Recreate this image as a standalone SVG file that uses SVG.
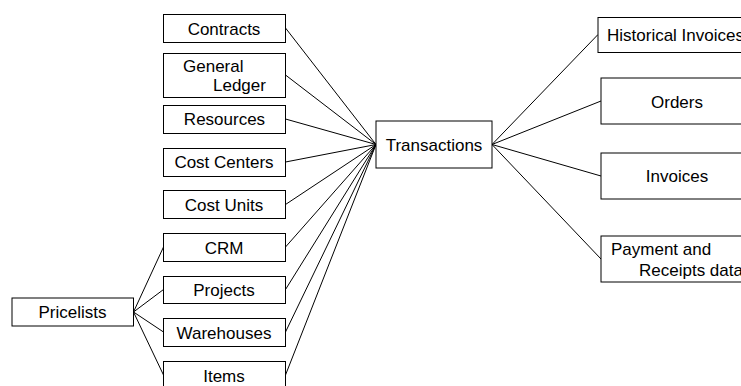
<svg xmlns="http://www.w3.org/2000/svg" width="741" height="386" viewBox="0 0 741 386">
<style>
.b{fill:#fff;stroke:#000;stroke-width:1}
.t{font-family:"Liberation Sans",Arial,sans-serif;font-size:17px;fill:#000}
.m{text-anchor:middle}
.c line{stroke:#000;stroke-width:1}
</style>
<rect width="741" height="386" fill="#fff"/>
<g class="c" id="connectors">
<line x1="285.5" y1="28" x2="376" y2="144.5"/>
<line x1="285.5" y1="75" x2="376" y2="144.5"/>
<line x1="285.5" y1="119" x2="376" y2="144.5"/>
<line x1="285.5" y1="162" x2="376" y2="144.5"/>
<line x1="285.5" y1="204.5" x2="376" y2="144.5"/>
<line x1="285.5" y1="247" x2="376" y2="144.5"/>
<line x1="285.5" y1="289.5" x2="376" y2="144.5"/>
<line x1="285.5" y1="332" x2="376" y2="144.5"/>
<line x1="285.5" y1="375" x2="376" y2="144.5"/>
<line x1="133.5" y1="312" x2="163.5" y2="247"/>
<line x1="133.5" y1="312" x2="163.5" y2="289.5"/>
<line x1="133.5" y1="312" x2="163.5" y2="332"/>
<line x1="133.5" y1="312" x2="163.5" y2="375"/>
<line x1="492" y1="144.5" x2="598" y2="34.5"/>
<line x1="492" y1="144.5" x2="601" y2="101"/>
<line x1="492" y1="144.5" x2="601" y2="176"/>
<line x1="492" y1="144.5" x2="601" y2="259"/>
</g>
<g id="contracts"><rect class="b" x="163.5" y="14.5" width="122" height="28"/><text class="t m" x="224" y="35">Contracts</text></g>
<g id="general-ledger"><rect class="b" x="163.5" y="53.5" width="122" height="44"/><text class="t" x="183" y="72">General</text><text class="t" x="213" y="91">Ledger</text></g>
<g id="resources"><rect class="b" x="163.5" y="105.5" width="122" height="28"/><text class="t m" x="224.5" y="125">Resources</text></g>
<g id="cost-centers"><rect class="b" x="163.5" y="148.5" width="122" height="28"/><text class="t m" x="224" y="168">Cost Centers</text></g>
<g id="cost-units"><rect class="b" x="163.5" y="190.5" width="122" height="28"/><text class="t m" x="224" y="211">Cost Units</text></g>
<g id="crm"><rect class="b" x="163.5" y="233.5" width="122" height="28"/><text class="t m" x="224" y="254">CRM</text></g>
<g id="projects"><rect class="b" x="163.5" y="276.5" width="122" height="27"/><text class="t m" x="224" y="296">Projects</text></g>
<g id="warehouses"><rect class="b" x="163.5" y="318.5" width="122" height="28"/><text class="t m" x="224" y="339">Warehouses</text></g>
<g id="items"><rect class="b" x="163.5" y="361.5" width="122" height="28"/><text class="t m" x="224" y="382">Items</text></g>
<g id="pricelists"><rect class="b" x="12" y="298" width="121.5" height="28"/><text class="t m" x="72.5" y="318">Pricelists</text></g>
<g id="transactions"><rect class="b" x="376" y="121" width="116" height="47"/><text class="t m" x="434" y="151">Transactions</text></g>
<g id="historical-invoices"><rect class="b" x="598" y="17.5" width="152" height="35"/><text class="t" x="607" y="41">Historical Invoices</text></g>
<g id="orders"><rect class="b" x="601" y="78" width="152" height="46"/><text class="t m" x="677" y="108">Orders</text></g>
<g id="invoices"><rect class="b" x="601" y="153" width="152" height="46"/><text class="t m" x="677" y="182">Invoices</text></g>
<g id="payment"><rect class="b" x="601" y="236" width="152" height="46"/><text class="t" x="611" y="255">Payment and</text><text class="t" x="639" y="276">Receipts data</text></g>
</svg>
